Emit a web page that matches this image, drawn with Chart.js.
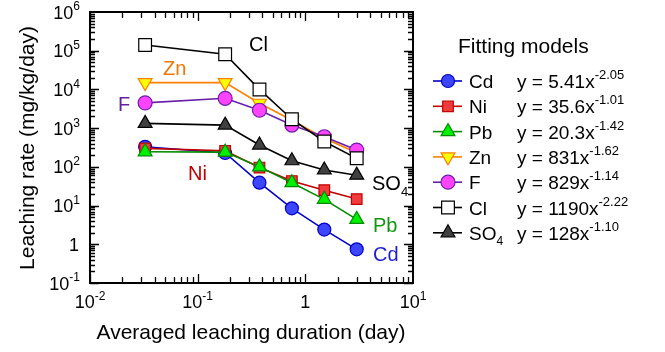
<!DOCTYPE html>
<html>
<head>
<meta charset="utf-8">
<script src="https://cdn.jsdelivr.net/npm/chart.js@4.4.0/dist/chart.umd.min.js"></script>
<style>
html, body { margin: 0; padding: 0; background: #fff; }
#wrap { width: 665px; height: 352px; }
</style>
</head>
<body>
<div id="wrap"><canvas id="chart" width="665" height="352"></canvas></div>
<script>
// averaged leaching duration (day)
const durations = [0.0325, 0.18, 0.375, 0.75, 1.5, 3];

// leaching rate (mg/kg/day)
const cd  = [330, 228, 39, 8.5, 2.4, 0.74];
const ni  = [300, 260, 96, 43, 25, 14.7];
const pb  = [245, 240, 100, 39, 14.5, 4.4];
const zn  = [15000, 15000, 4400, 1600, 550, 230];
const f   = [4500, 5900, 2900, 1200, 600, 272];
const cl  = [140000, 81000, 10000, 1700, 450, 166];
const so4 = [1330, 1200, 366, 144, 83, 61];

const seriesNames = ['Cd', 'Ni', 'Pb', 'Zn', 'F', 'Cl', 'SO4'];
const fitCoeffs   = ['5.41', '35.6', '20.3', '831', '829', '1190', '128'];
const fitExps     = ['-2.05', '-1.01', '-1.42', '-1.62', '-1.14', '-2.22', '-1.10'];

const xTicks = [-2, -1, 0, 1];
const yTicks = [-1, 0, 1, 2, 3, 4, 5, 6];

const FONT = '"Liberation Sans", Arial, sans-serif';

const styles = {
    Cd:  { line: '#0000c8', fill: '#3c46ff', border: '#0000c8', shape: 'circle',   r: 6.5, rot: 0,   order: 4 },
    Ni:  { line: '#c00000', fill: '#f03c3c', border: '#c00000', shape: 'rect',     r: 7.5, rot: 0,   order: 3 },
    Pb:  { line: '#008c00', fill: '#00f000', border: '#008c00', shape: 'triangle', r: 8,   rot: 0,   order: 2 },
    Zn:  { line: '#ff8000', fill: '#ffff00', border: '#ff8000', shape: 'triangle', r: 8,   rot: 180, order: 6 },
    F:   { line: '#6a1fa8', fill: '#ff44ff', border: '#6a1fa8', shape: 'circle',   r: 7,   rot: 0,   order: 5 },
    Cl:  { line: '#000000', fill: '#ffffff', border: '#000000', shape: 'rect',     r: 9,   rot: 0,   order: 1 },
    SO4: { line: '#000000', fill: '#404040', border: '#000000', shape: 'triangle', r: 8,   rot: 0,   order: 7 }
};

const values = { Cd: cd, Ni: ni, Pb: pb, Zn: zn, F: f, Cl: cl, SO4: so4 };

const datasets = seriesNames.map(name => {
    const s = styles[name];
    return {
        label: name,
        data: durations.map((d, i) => ({ x: d, y: values[name][i] })),
        showLine: true,
        borderColor: s.line,
        borderWidth: 1.6,
        pointStyle: s.shape,
        pointRotation: s.rot,
        pointRadius: s.r,
        pointBackgroundColor: s.fill,
        pointBorderColor: s.border,
        pointBorderWidth: 1.2,
        order: s.order
    };
});

function powText(ctx, exp, x, y, align, size, supSize) {
    ctx.font = size + 'px ' + FONT;
    const wb = ctx.measureText('10').width;
    ctx.font = supSize + 'px ' + FONT;
    const we = ctx.measureText(exp).width;
    const w = wb + we;
    let x0 = x;
    if (align === 'center') x0 = x - w / 2;
    if (align === 'right') x0 = x - w;
    ctx.textAlign = 'left';
    ctx.textBaseline = 'alphabetic';
    ctx.font = size + 'px ' + FONT;
    ctx.fillText('10', x0, y);
    ctx.font = supSize + 'px ' + FONT;
    ctx.fillText(exp, x0 + wb, y - size * 0.45);
}

function drawMarker(ctx, name, x, y) {
    const s = styles[name];
    ctx.strokeStyle = s.line;
    ctx.lineWidth = 1.6;
    ctx.beginPath();
    ctx.moveTo(x - 15, y);
    ctx.lineTo(x + 14, y);
    ctx.stroke();
    ctx.fillStyle = s.fill;
    ctx.strokeStyle = s.border;
    ctx.lineWidth = 1.2;
    Chart.helpers.drawPoint(ctx, { pointStyle: s.shape, rotation: s.rot, radius: s.r, borderWidth: 1.2 }, x, y);
}

const decor = {
    id: 'decor',
    afterDraw(chart) {
        const ctx = chart.ctx;
        const xs = chart.scales.x, ys = chart.scales.y;
        const L = xs.left, R = xs.right, T = ys.top, B = ys.bottom;
        ctx.save();
        ctx.strokeStyle = '#000';
        ctx.fillStyle = '#000';

        // frame
        ctx.lineWidth = 2;
        ctx.strokeRect(L, T, R - L, B - T);

        // ticks
        ctx.lineWidth = 1.3;
        ctx.beginPath();
        for (let e = -2; e < 1; e++) {
            for (let m = 1; m <= 9; m++) {
                const px = Math.round(xs.getPixelForValue(m * Math.pow(10, e))) + 0.5;
                const len = m === 1 ? 9 : 6;
                ctx.moveTo(px, B); ctx.lineTo(px, B - len);
                ctx.moveTo(px, T); ctx.lineTo(px, T + len);
            }
        }
        for (let e = -1; e < 6; e++) {
            for (let m = 1; m <= 9; m++) {
                const py = Math.round(ys.getPixelForValue(m * Math.pow(10, e))) + 0.5;
                const len = m === 1 ? 9 : 5;
                ctx.moveTo(L, py); ctx.lineTo(L + len, py);
                ctx.moveTo(R, py); ctx.lineTo(R - len, py);
            }
        }
        ctx.stroke();

        // tick labels
        xTicks.forEach(e => {
            const px = xs.getPixelForValue(Math.pow(10, e));
            if (e === 0) {
                ctx.font = '18px ' + FONT;
                ctx.textAlign = 'center';
                ctx.fillText('1', px, 308);
            } else {
                powText(ctx, String(e), px, 308, 'center', 18, 12);
            }
        });
        yTicks.forEach(e => {
            const py = ys.getPixelForValue(Math.pow(10, e));
            if (e === 0) {
                ctx.font = '18px ' + FONT;
                ctx.textAlign = 'right';
                ctx.fillText('1', 79, py + 6.5);
            } else {
                powText(ctx, String(e), 80, py + 6.5, 'right', 18, 12);
            }
        });

        // axis titles
        ctx.font = '21px ' + FONT;
        ctx.textAlign = 'center';
        ctx.fillText('Averaged leaching duration (day)', 251, 339);
        ctx.save();
        ctx.translate(34, 148);
        ctx.rotate(-Math.PI / 2);
        ctx.fillText('Leaching rate (mg/kg/day)', 0, 0);
        ctx.restore();

        // labels in the plot
        ctx.textAlign = 'left';
        ctx.font = '20px ' + FONT;
        const tags = [
            ['Cl', '#000000', 249, 51],
            ['Zn', '#f07800', 163, 75],
            ['F', '#6020a0', 118, 111],
            ['Ni', '#c00000', 188, 180],
            ['Pb', '#129612', 373, 232],
            ['Cd', '#1e1ed2', 373, 261]
        ];
        tags.forEach(t => {
            ctx.fillStyle = t[1];
            ctx.fillText(t[0], t[2], t[3]);
        });
        ctx.fillStyle = '#000';
        ctx.fillText('SO', 372, 190);
        const wSO = ctx.measureText('SO').width;
        ctx.font = '13px ' + FONT;
        ctx.fillText('4', 372 + wSO, 196);

        // legend
        ctx.font = '21px ' + FONT;
        ctx.fillText('Fitting models', 458, 53);
        seriesNames.forEach((name, i) => {
            const base = 88 + i * 25.3;
            drawMarker(ctx, name, 448, base - 7);
            ctx.fillStyle = '#000';
            ctx.textAlign = 'left';
            ctx.font = '19px ' + FONT;
            if (name === 'SO4') {
                ctx.fillText('SO', 469, base);
                const w = ctx.measureText('SO').width;
                ctx.font = '12px ' + FONT;
                ctx.fillText('4', 469 + w, base + 5);
                ctx.font = '19px ' + FONT;
            } else {
                ctx.fillText(name, 469, base);
            }
            const eq = 'y = ' + fitCoeffs[i] + 'x';
            ctx.fillText(eq, 517, base);
            const w = ctx.measureText(eq).width;
            ctx.font = '13px ' + FONT;
            ctx.fillText(fitExps[i], 517 + w, base - 9);
        });
        ctx.restore();
    }
};

new Chart(document.getElementById('chart').getContext('2d'), {
    type: 'scatter',
    data: { datasets: datasets },
    options: {
        responsive: false,
        devicePixelRatio: 1,
        animation: false,
        layout: { padding: { left: 90, top: 12, right: 252, bottom: 69 } },
        plugins: { legend: { display: false }, tooltip: { enabled: false } },
        scales: {
            x: { type: 'logarithmic', min: 0.01, max: 10, display: false },
            y: { type: 'logarithmic', min: 0.1, max: 1000000, display: false }
        }
    },
    plugins: [decor]
});
</script>
</body>
</html>
